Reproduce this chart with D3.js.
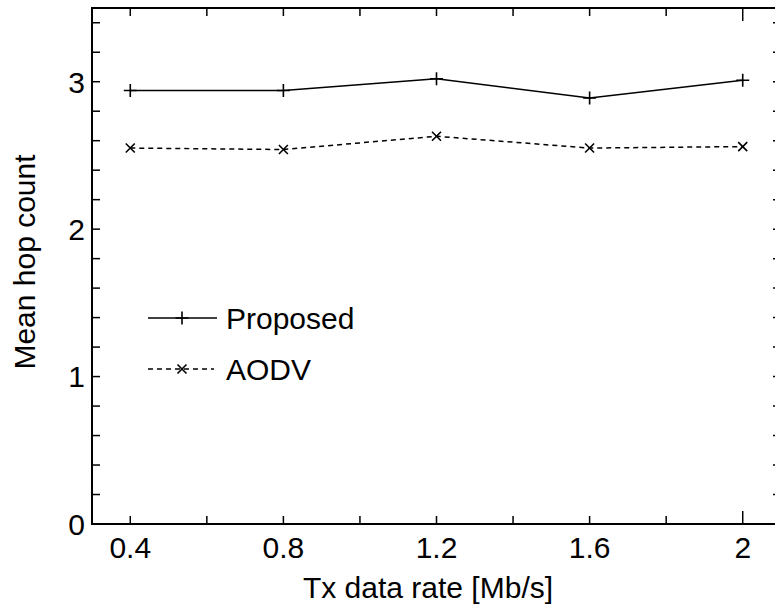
<!DOCTYPE html>
<html>
<head>
<meta charset="utf-8">
<script src="https://cdn.jsdelivr.net/npm/d3@7"></script>
<style>
  body { margin: 0; background: #fff; }
  text { font-family: "Liberation Sans", Arial, sans-serif; fill: #000; }
</style>
</head>
<body>
<div id="chart"></div>
<script>
let svgWidth = 775;
let svgHeight = 611;

// data
let rates = [0.4, 0.8, 1.2, 1.6, 2.0];
let proposed = [2.94, 2.94, 3.02, 2.89, 3.01];
let aodv = [2.55, 2.54, 2.63, 2.55, 2.56];
let xTickLabels = [0.4, 0.8, 1.2, 1.6, 2.0];
let yTickLabels = [0, 1, 2, 3];

let margin = { top: 8, left: 92 };
let width = 689;   // right border sits just past the window edge
let height = 516;
let fontSize = 30;

let svg = d3.select("#chart")
  .append("svg")
  .attr("width", svgWidth)
  .attr("height", svgHeight);

let chartGroup = svg.append("g")
  .attr("transform", `translate(${margin.left}, ${margin.top})`);

let xScale = d3.scaleLinear().domain([0.3, 2.1]).range([0, width]);
let yScale = d3.scaleLinear().domain([0, 3.5]).range([height, 0]);

// minor ticks every 0.2 on both axes
let xMinor = d3.range(0.4, 2.01, 0.2).map(d => +d.toFixed(1));
let yMinor = d3.range(0.2, 3.41, 0.2).map(d => +d.toFixed(1));

// box
chartGroup.append("rect")
  .attr("width", width)
  .attr("height", height)
  .attr("fill", "none")
  .attr("stroke", "#000")
  .attr("stroke-width", 2);

let ticks = chartGroup.append("g").attr("stroke", "#000").attr("stroke-width", 1.5);

xMinor.forEach(function(v) {
  let len = Math.abs(v - 2) < 1e-6 ? 13 : 8;
  ticks.append("line")
    .attr("x1", xScale(v)).attr("x2", xScale(v))
    .attr("y1", height).attr("y2", height - len);
  ticks.append("line")
    .attr("x1", xScale(v)).attr("x2", xScale(v))
    .attr("y1", 0).attr("y2", len);
});

yMinor.forEach(function(v) {
  ticks.append("line")
    .attr("x1", 0).attr("x2", 8)
    .attr("y1", yScale(v)).attr("y2", yScale(v));
  ticks.append("line")
    .attr("x1", width).attr("x2", width - 8)
    .attr("y1", yScale(v)).attr("y2", yScale(v));
});

// tick labels
chartGroup.selectAll(".xlab")
  .data(xTickLabels)
  .enter()
  .append("text")
  .attr("x", d => xScale(d))
  .attr("y", height + 34)
  .attr("text-anchor", "middle")
  .attr("font-size", fontSize)
  .text(d => d === 2 ? "2" : d3.format(".1f")(d));

chartGroup.selectAll(".ylab")
  .data(yTickLabels)
  .enter()
  .append("text")
  .attr("x", -7)
  .attr("y", d => yScale(d))
  .attr("dy", "0.36em")
  .attr("text-anchor", "end")
  .attr("font-size", fontSize)
  .text(d => d);

// lines
let line = d3.line()
  .x((d, i) => xScale(rates[i]))
  .y(d => yScale(d));

chartGroup.append("path")
  .datum(proposed)
  .attr("d", line)
  .attr("fill", "none")
  .attr("stroke", "#000")
  .attr("stroke-width", 1.5);

chartGroup.append("path")
  .datum(aodv)
  .attr("d", line)
  .attr("fill", "none")
  .attr("stroke", "#000")
  .attr("stroke-width", 1.5)
  .attr("stroke-dasharray", "5,4");

function plusMark(g, x, y) {
  g.append("path")
    .attr("d", `M${x - 6.5},${y}H${x + 6.5}M${x},${y - 6.5}V${y + 6.5}`)
    .attr("stroke", "#000").attr("stroke-width", 1.6);
}
function crossMark(g, x, y) {
  g.append("path")
    .attr("d", `M${x - 4.5},${y - 4.5}L${x + 4.5},${y + 4.5}M${x - 4.5},${y + 4.5}L${x + 4.5},${y - 4.5}`)
    .attr("stroke", "#000").attr("stroke-width", 1.6);
}

proposed.forEach((d, i) => plusMark(chartGroup, xScale(rates[i]), yScale(d)));
aodv.forEach((d, i) => crossMark(chartGroup, xScale(rates[i]), yScale(d)));

// legend
let legend = svg.append("g");
legend.append("line")
  .attr("x1", 148).attr("x2", 217).attr("y1", 318).attr("y2", 318)
  .attr("stroke", "#000").attr("stroke-width", 1.5);
plusMark(legend, 182, 318);
legend.append("text")
  .attr("x", 226).attr("y", 318).attr("dy", "0.36em")
  .attr("font-size", fontSize)
  .text("Proposed");

legend.append("line")
  .attr("x1", 148).attr("x2", 214).attr("y1", 369).attr("y2", 369)
  .attr("stroke", "#000").attr("stroke-width", 1.5)
  .attr("stroke-dasharray", "5,4");
crossMark(legend, 182, 369);
legend.append("text")
  .attr("x", 226).attr("y", 369).attr("dy", "0.36em")
  .attr("font-size", fontSize)
  .text("AODV");

// axis titles
svg.append("text")
  .attr("x", 428)
  .attr("y", 598)
  .attr("text-anchor", "middle")
  .attr("font-size", fontSize)
  .text("Tx data rate [Mb/s]");

svg.append("text")
  .attr("transform", "translate(35, 262) rotate(-90)")
  .attr("text-anchor", "middle")
  .attr("font-size", fontSize)
  .text("Mean hop count");
</script>
</body>
</html>
